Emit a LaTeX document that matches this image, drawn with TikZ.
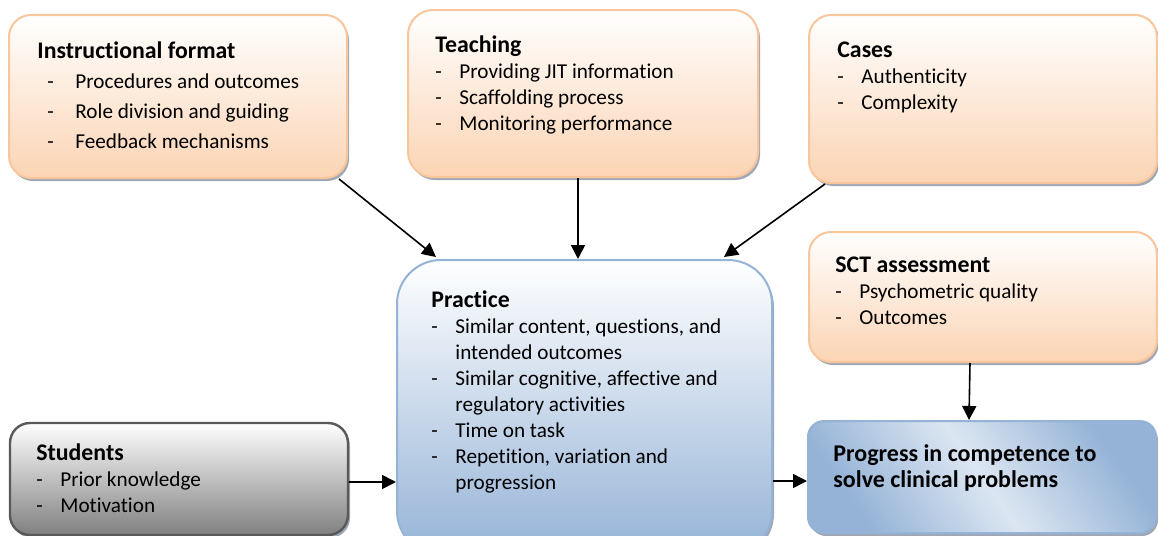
\documentclass[tikz,border=0pt]{standalone}
\usepackage{fontspec}
\setmainfont[Ligatures=NoCommon]{Carlito}
\usetikzlibrary{arrows.meta,fit,shadows}
\definecolor{peach}{HTML}{FBD4B4}
\definecolor{peachline}{HTML}{F9C59B}
\definecolor{skyblue}{HTML}{95B3D7}
\definecolor{paleblue}{HTML}{DCE6F2}
\definecolor{shade}{HTML}{A0A8B6}
\def\hd#1{\rule{0pt}{9pt}{\fontsize{11.9}{13}\selectfont\bfseries #1}}
\def\itm#1{\makebox[12pt][l]{-}#1}
\def\itmw#1{\hspace*{5pt}\makebox[14pt][l]{-}#1}
\def\cont#1{\hspace*{12pt}#1}
\pgfdeclarehorizontalshading{streak}{100bp}{color(0bp)=(skyblue); color(26bp)=(skyblue); color(50bp)=(paleblue); color(74bp)=(skyblue); color(100bp)=(skyblue)}

\begin{document}
\begin{tikzpicture}[x=0.5pt,y=-0.5pt,
    box/.style={rounded corners=11pt, line width=1pt, inner sep=0pt,
        drop shadow={shadow xshift=1pt, shadow yshift=-1.5pt, fill=shade, opacity=1}},
    orangebox/.style={box, draw=peachline, top color=white, bottom color=peach},
    bluebox/.style={box, draw=skyblue, top color=white, bottom color=skyblue},
    graybox/.style={box, draw=black!65, line width=1.2pt, top color=white, bottom color=black!50},
    txt/.style={anchor=north west, inner sep=0pt, align=left, font=\fontsize{10.6}{13}\selectfont},
    arr/.style={-{Triangle[length=7pt,width=7pt]}, line width=0.8pt}]
\useasboundingbox (0,0) rectangle (1158,536);

% boxes
\node[orangebox, fit={(9,15) (347,178)}] (instr) {};
\node[orangebox, rounded corners=12.5pt, fit={(408,10) (758,177)}] (teach) {};
\node[orangebox, fit={(809,15) (1157,183)}] (cases) {};
\node[bluebox, rounded corners=22pt, fit={(397,260) (772,555)}] (prac) {};
\node[orangebox, fit={(809,232) (1157,362)}] (sct) {};
\node[graybox, rounded corners=10pt, fit={(10,423) (348,535)}] (stud) {};
\node[box, rounded corners=8pt, draw=skyblue, shading=streak, shading angle=35,
      fit={(808,421) (1156,533)}] (prog) {};

% texts
\node[txt, font=\fontsize{10.6}{15}\selectfont] (instrtxt) at (37,40)
    {\hd{Instructional format}\\ \itmw{Procedures and outcomes}\\
     \itmw{Role division and guiding}\\ \itmw{Feedback mechanisms}};
\node[txt] (teachtxt) at (435,34)
    {\hd{Teaching}\\ \itm{Providing JIT information}\\
     \itm{Scaffolding process}\\ \itm{Monitoring performance}};
\node[txt] (casestxt) at (837,39)
    {\hd{Cases}\\ \itm{Authenticity}\\ \itm{Complexity}};
\node[txt] (practxt) at (431,289)
    {\hd{Practice}\\ \itm{Similar content, questions, and}\\ \cont{intended outcomes}\\
     \itm{Similar cognitive, affective and}\\ \cont{regulatory activities}\\
     \itm{Time on task}\\ \itm{Repetition, variation and}\\ \cont{progression}};
\node[txt] (scttxt) at (835,254)
    {\hd{SCT assessment}\\ \itm{Psychometric quality}\\ \itm{Outcomes}};
\node[txt] (studtxt) at (36,442)
    {\hd{Students}\\ \itm{Prior knowledge}\\ \itm{Motivation}};
\node[txt, font=\fontsize{12}{13}\selectfont\bfseries] (progtxt) at (833,443)
    {\rule{0pt}{9pt}Progress in competence to\\ solve clinical problems};

% arrows
\draw[arr] ([xshift=-4.5pt]instr.south east) -- ([xshift=20pt,yshift=1pt]prac.north west);
\draw[arr] ([xshift=-2.5pt]teach.south) -- ([xshift=-2.5pt]teach.south |- prac.north);
\draw[arr] ([xshift=8.5pt]cases.south west) -- ([xshift=-24.5pt,yshift=1pt]prac.north east);
\draw[arr] ([yshift=-1.5pt]stud.east) -- ([yshift=-1.5pt]stud.east -| prac.west);
\draw[arr] ([yshift=-2pt]prac.east |- prog.west) -- ([yshift=-2pt]prog.west);
\draw[arr] ([xshift=-6.5pt]sct.south) -- ([xshift=-6.5pt]prog.north);
\end{tikzpicture}
\end{document}
